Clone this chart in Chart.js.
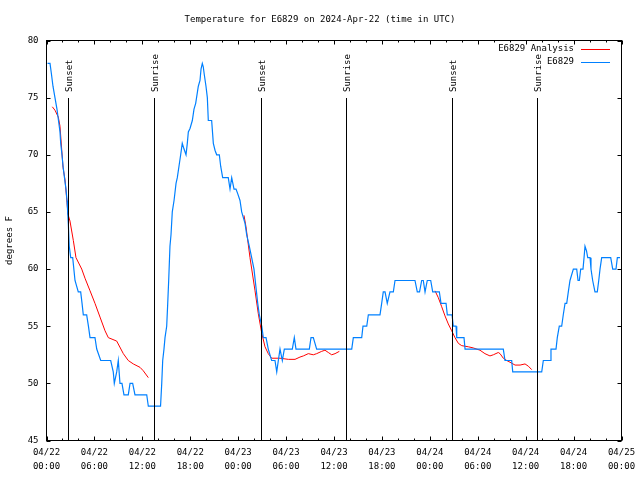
<!DOCTYPE html>
<html>
<head>
<meta charset="utf-8">
<script src="https://cdn.jsdelivr.net/npm/chart.js@4.4.1/dist/chart.umd.min.js"></script>
<style>
body{margin:0;background:#fff;}
#wrap{width:640px;height:480px;}
</style>
</head>
<body>
<div id="wrap"><canvas id="tempchart" width="640" height="480"></canvas></div>
<script>
// hours since 04/22 00:00 UTC
var obsTime=[0.13,0.44,0.63,0.81,1.06,1.31,1.5,1.69,1.78,1.94,2.07,2.25,2.44,2.57,2.65,2.73,2.85,3.03,3.28,3.57,3.98,4.28,4.45,4.61,5.03,5.25,5.45,6.07,6.29,6.79,8.04,8.36,8.49,8.79,8.99,9.2,9.45,9.7,10.24,10.46,10.79,11.08,12.55,12.75,14.28,14.43,14.55,14.71,14.84,15.05,15.18,15.3,15.46,15.59,15.75,15.97,16.22,16.38,16.59,16.8,17.0,17.22,17.47,17.63,17.76,17.97,18.26,18.47,18.68,19.01,19.22,19.35,19.51,19.63,19.76,19.97,20.14,20.26,20.68,20.89,21.1,21.31,21.64,21.81,22.06,22.76,22.98,23.19,23.48,23.73,23.94,24.23,24.44,24.86,25.07,25.39,25.69,25.98,26.23,26.45,26.65,26.95,27.15,27.49,27.77,28.19,28.61,28.83,29.03,29.24,29.53,29.78,30.78,31.03,31.24,32.91,33.12,33.41,33.83,38.22,38.42,39.47,39.63,40.1,40.3,41.76,41.97,42.17,42.39,42.67,43.01,43.43,43.64,46.14,46.43,46.71,46.98,47.18,47.4,47.68,48.11,48.36,49.19,49.4,50.03,50.19,50.78,50.94,51.28,51.37,52.28,52.41,57.2,57.41,58.25,58.38,62.01,62.21,63.05,63.17,63.8,63.96,64.21,64.51,64.71,64.93,65.14,65.34,65.55,65.97,66.39,66.56,66.72,66.89,67.18,67.31,67.43,67.62,67.77,68.06,68.18,68.39,68.68,68.97,69.15,69.31,69.52,70.65,70.9,71.31,71.48,71.81];
var obsTemp=[78,78,77,76,75,74,73,72,71,70,69,68,67,66,65,64,62,61,61,59,58,58,57,56,56,55,54,54,53,52,52,51,50,51,52,50,50,49,49,50,50,49,49,48,48,50,52,53,54,55,57,59,62,63,65,66,67.5,68,69,70,71,70.5,70,71,72,72.3,73,74,74.5,76,76.5,77.5,78,77.7,77,76,75,73,73,71,70.4,70,70,69,68,68,67,68,67,67,66.6,66,65,64,63,62,61,60,58.4,57,56,55,54,54,53,52,52,51,52,53,52,53,53,54,53,53,54,54,53,53,54,54,55,55,56,56,57,58,58,57,58,58,59,59,58,58,59,59,58,59,59,58,58,57,57,56,56,55,55,54,54,53,53,52,52,51,51,52,52,53,53,54,55,55,56,57,57,58,59,60,60,59,59,60,60,61,62,61.6,61,61,60,59,58,58,59,60,61,61,60,60,61,61];

var fitTime=[0.73,1.06,1.48,1.69,1.9,2.07,2.32,2.57,2.69,2.94,3.36,3.69,4.41,4.82,5.45,6.07,6.7,7.33,7.74,8.79,9.62,10.24,10.87,11.71,12.12,12.75,18,24.73,24.98,25.48,26.11,26.52,26.95,27.36,27.77,28.19,29.24,30.28,31.12,31.74,32.16,32.78,33.41,33.83,34.46,34.87,35.29,35.71,36.13,36.67,42,48.65,49.06,49.49,49.9,50.31,50.74,51.15,51.57,51.99,52.82,53.44,54.28,54.9,55.53,55.95,56.57,56.79,57.2,57.63,58.04,58.67,59.3,59.92,60.34,60.76];
var fitTemp=[74.2,73.9,73.3,72.5,70.5,68.9,67.8,65.8,64.8,64.2,62.5,61.0,60.0,59.2,58.1,57.0,55.8,54.6,54.0,53.7,52.6,52.0,51.7,51.4,51.1,50.5,null,64.7,63.7,61.0,58.1,56.1,54.4,53.2,52.6,52.2,52.2,52.1,52.1,52.3,52.4,52.6,52.5,52.6,52.8,52.9,52.7,52.5,52.6,52.8,null,58.1,57.5,56.7,55.9,55.2,54.6,54.0,53.5,53.3,53.2,53.1,52.9,52.6,52.4,52.5,52.7,52.6,52.2,52.0,51.85,51.6,51.6,51.7,51.5,51.2];

var sunTime=[2.73,13.5,26.8,37.47,50.8,61.36];
var sunLabel=['Sunset','Sunrise','Sunset','Sunrise','Sunset','Sunrise'];

var tickDay=['04/22','04/22','04/22','04/22','04/23','04/23','04/23','04/23','04/24','04/24','04/24','04/24','04/25'];
var tickClock=['00:00','06:00','12:00','18:00','00:00','06:00','12:00','18:00','00:00','06:00','12:00','18:00','00:00'];

var monoFont="'DejaVu Sans Mono', 'Liberation Mono', monospace";

function toPoints(t,v){
    var pts=[];
    for(var i=0;i<t.length;i++){
        pts.push({x:t[i],y:v[i]});
    }
    return pts;
}

var framePlugin={
    id:'frame',
    afterDatasetsDraw:function(chart){
        var c=chart.ctx, a=chart.chartArea;
        var xs=chart.scales.x, ys=chart.scales.y;
        c.save();
        c.strokeStyle='#000';
        c.lineWidth=1;
        // sunset / sunrise markers
        c.font='9px '+monoFont;
        c.fillStyle='#000';
        for(var i=0;i<sunTime.length;i++){
            var sx=Math.round(xs.getPixelForValue(sunTime[i]))+0.5;
            c.beginPath();
            c.moveTo(sx,98);
            c.lineTo(sx,a.bottom);
            c.stroke();
            c.save();
            c.translate(sx+1,92);
            c.rotate(-Math.PI/2);
            c.textAlign='left';
            c.textBaseline='middle';
            c.fillText(sunLabel[i],0,0);
            c.restore();
        }
        c.strokeRect(a.left,a.top,a.right-a.left,a.bottom-a.top);
        // inward ticks
        c.beginPath();
        for(var h=xs.min;h<=xs.max;h+=2){
            var px=Math.round(xs.getPixelForValue(h))+0.5;
            var len=(h%6==0)?4:2;
            c.moveTo(px,a.bottom);c.lineTo(px,a.bottom-len);
            c.moveTo(px,a.top);c.lineTo(px,a.top+len);
        }
        for(var v=ys.min;v<=ys.max;v+=5){
            var py=Math.round(ys.getPixelForValue(v))+0.5;
            c.moveTo(a.left,py);c.lineTo(a.left+4,py);
            c.moveTo(a.right,py);c.lineTo(a.right-4,py);
        }
        c.stroke();
        // legend
        c.textAlign='right';
        c.textBaseline='middle';
        var ds=chart.data.datasets;
        var order=[1,0];
        for(var k=0;k<order.length;k++){
            var d=ds[order[k]];
            var ly=49+k*13;
            c.fillText(d.label,574,ly);
            c.strokeStyle=d.borderColor;
            c.beginPath();
            c.moveTo(581,ly+0.5);c.lineTo(610,ly+0.5);
            c.stroke();
        }
        // title
        c.textAlign='center';
        c.textBaseline='middle';
        c.fillStyle='#000';
        c.fillText('Temperature for E6829 on 2024-Apr-22 (time in UTC)',320,20);
        c.restore();
    }
};

var ctx=document.getElementById('tempchart').getContext('2d');
var tempChart=new Chart(ctx,{
    type:'line',
    data:{
        datasets:[{
            label:'E6829',
            data:toPoints(obsTime,obsTemp),
            borderColor:'rgb(0,128,255)',
            borderWidth:1.2,
            pointRadius:0,
            tension:0,
            fill:false
        },{
            label:'E6829 Analysis',
            data:toPoints(fitTime,fitTemp),
            borderColor:'rgb(255,0,0)',
            borderWidth:1,
            pointRadius:0,
            tension:0,
            spanGaps:false,
            fill:false
        }]
    },
    options:{
        responsive:false,
        animation:false,
        devicePixelRatio:1,
        layout:{padding:{left:0,right:18.5,top:40.5,bottom:0}},
        plugins:{legend:{display:false},tooltip:{enabled:false},title:{display:false}},
        scales:{
            x:{
                type:'linear',
                min:0,max:72,
                grid:{display:false,drawTicks:false},
                border:{display:false},
                afterFit:function(s){s.height=39.5;s.paddingLeft=0;s.paddingRight=0;},
                ticks:{
                    stepSize:6,
                    autoSkip:false,
                    maxRotation:0,
                    padding:5,
                    color:'#000',
                    font:{family:monoFont,size:9,lineHeight:1.6},
                    callback:function(val){
                        var i=Math.round(val/6);
                        return [tickDay[i],tickClock[i]];
                    }
                }
            },
            y:{
                min:45,max:80,
                grid:{display:false,drawTicks:false},
                border:{display:false},
                afterFit:function(s){s.width=46.5;s.paddingTop=0;s.paddingBottom=0;},
                ticks:{stepSize:5,padding:8,color:'#000',font:{family:monoFont,size:9}},
                title:{display:true,text:'degrees F',color:'#000',font:{family:monoFont,size:9},padding:{top:4,bottom:4}}
            }
        }
    },
    plugins:[framePlugin]
});
</script>
</body>
</html>
